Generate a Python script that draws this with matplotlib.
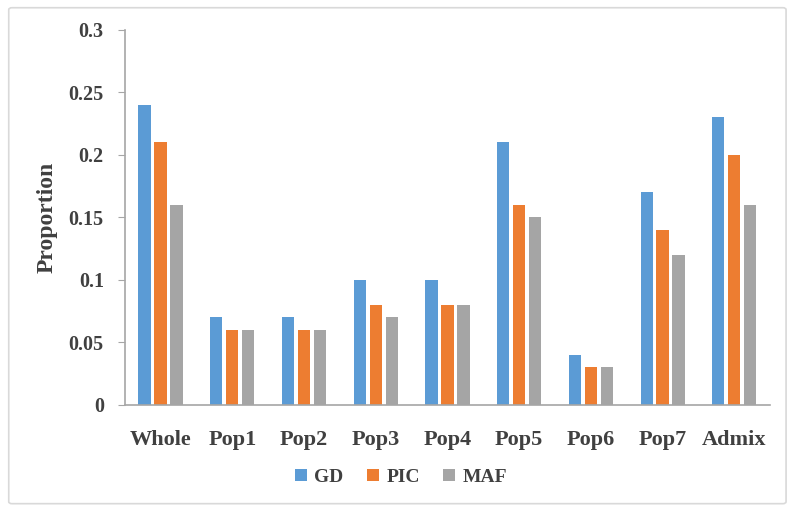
import numpy as np
import matplotlib.pyplot as plt
from matplotlib.patches import FancyBboxPatch

# Data
categories = ["Whole", "Pop1", "Pop2", "Pop3", "Pop4", "Pop5", "Pop6", "Pop7", "Admix"]
gd = [0.24, 0.07, 0.07, 0.10, 0.10, 0.21, 0.04, 0.17, 0.23]
pic = [0.21, 0.06, 0.06, 0.08, 0.08, 0.16, 0.03, 0.14, 0.20]
maf = [0.16, 0.06, 0.06, 0.07, 0.08, 0.15, 0.03, 0.12, 0.16]
yticks = [0, 0.05, 0.1, 0.15, 0.2, 0.25, 0.3]

colors = ["#5B9BD5", "#ED7D31", "#A5A5A5"]
txt = "#404040"
plt.rcParams['font.family'] = ['Liberation Serif', 'DejaVu Serif']

fig = plt.figure(figsize=(7.94, 5.15), dpi=100)
ax = fig.add_axes([0.157, 0.214, 0.813, 0.728])

# light frame around the whole chart
frame = FancyBboxPatch((0.011, 0.022), 0.979, 0.963, boxstyle="round,pad=0,rounding_size=0.004",
                       transform=fig.transFigure, fill=False, edgecolor="#D9D9D9", linewidth=1.2)
fig.patches.append(frame)

x = np.arange(len(categories))
w = 0.17
off = 0.223
ax.bar(x - off, gd, w, color=colors[0], label="GD")
ax.bar(x, pic, w, color=colors[1], label="PIC")
ax.bar(x + off, maf, w, color=colors[2], label="MAF")

ax.set_xlim(-0.5, len(categories) - 0.5)
ax.set_ylim(0, 0.3)
ax.set_yticks(yticks)
ax.set_yticklabels(["%g" % t for t in yticks])
ax.set_xticks(x)
ax.set_xticklabels(categories)

for s in ["top", "right"]:
    ax.spines[s].set_visible(False)
for s in ["left", "bottom"]:
    ax.spines[s].set_color("#A6A6A6")
    ax.spines[s].set_linewidth(1.2)

ax.tick_params(axis="y", length=5, color="#A6A6A6", labelsize=14.5, labelcolor=txt, pad=10)
ax.tick_params(axis="x", length=0, labelsize=16, labelcolor=txt, pad=18)
for lbl in ax.get_xticklabels() + ax.get_yticklabels():
    lbl.set_fontweight("bold")

ax.set_ylabel("Proportion", fontsize=17, fontweight="bold", color=txt)
ax.yaxis.set_label_coords(-0.104, 0.5)

leg = fig.legend(loc="center", bbox_to_anchor=(0.505, 0.073), ncol=3, frameon=False,
                 handlelength=0.6, handleheight=0.6, handletextpad=0.4, columnspacing=1.2,
                 prop={"size": 14, "weight": "bold"})
for t in leg.get_texts():
    t.set_color(txt)

fig.savefig("out.png", dpi=100)
